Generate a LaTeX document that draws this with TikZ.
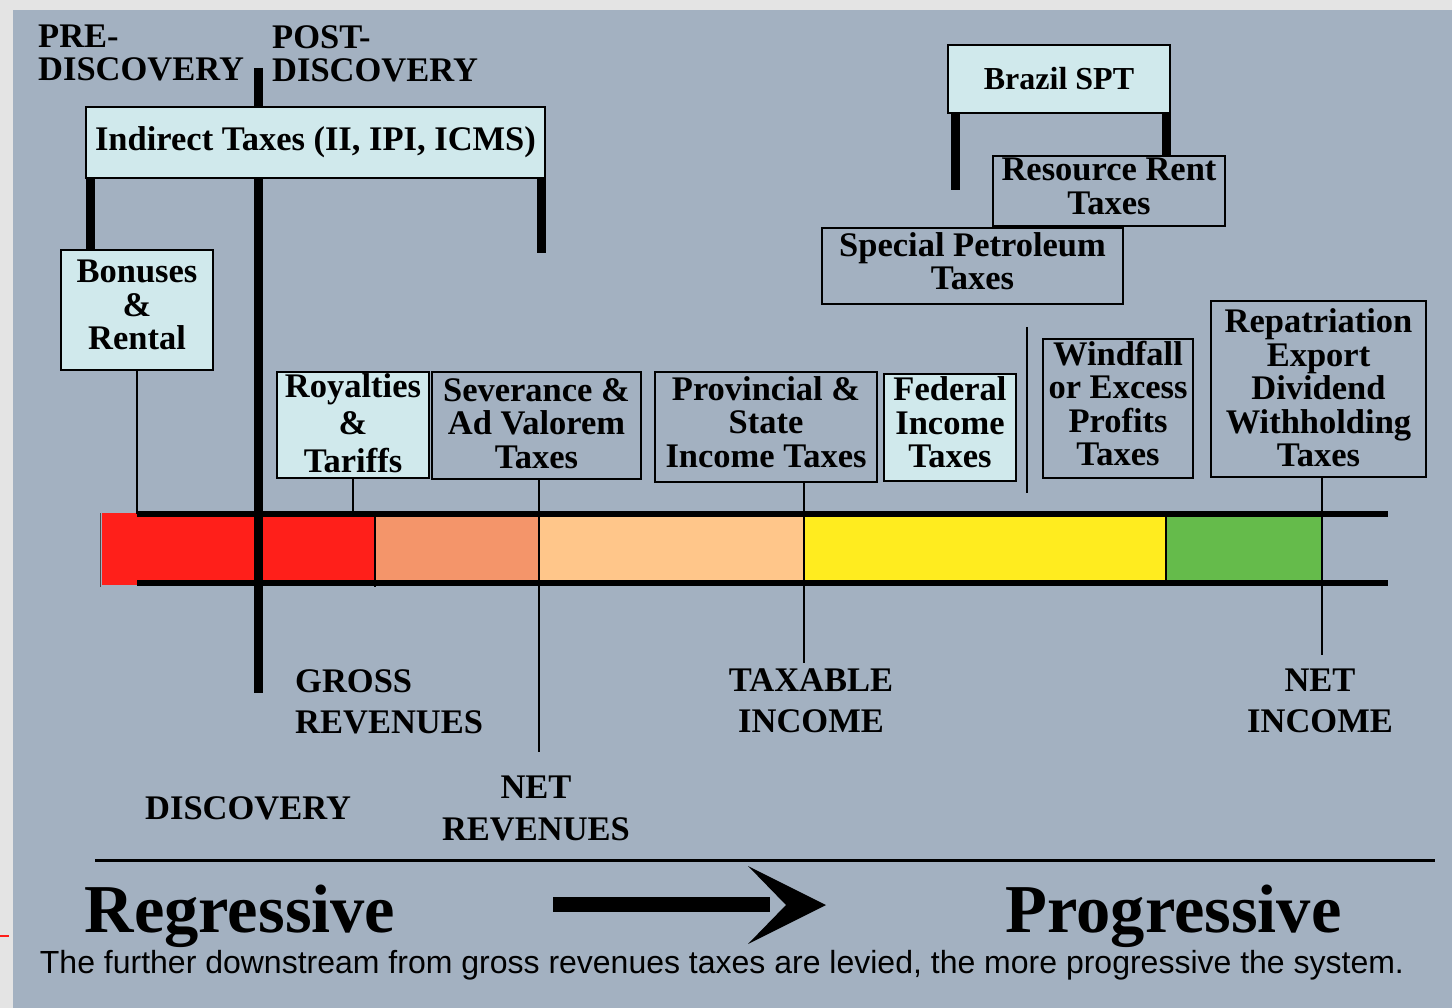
\documentclass[tikz,border=0pt]{standalone}
\usepackage{fontspec}
\setmainfont{Liberation Serif}
\newfontfamily\sentfont{Liberation Sans}
\definecolor{slate}{RGB}{163,177,193}
\definecolor{frame}{RGB}{228,228,228}
\definecolor{boxcyan}{RGB}{208,233,236}
\definecolor{barred}{RGB}{255,31,26}
\definecolor{barsalmon}{RGB}{244,149,106}
\definecolor{barpeach}{RGB}{255,198,138}
\definecolor{baryellow}{RGB}{255,236,31}
\definecolor{bargreen}{RGB}{101,187,75}
\newcommand\taxfont{\fontsize{34.5}{33.5}\selectfont\bfseries}
\newcommand\phasefont{\fontsize{34.5}{33}\selectfont\bfseries}
\newcommand\stagefont{\fontsize{34.5}{41}\selectfont\bfseries}
\newcommand\trendfont{\fontsize{68.5}{70}\selectfont\bfseries}
\begin{document}
\begin{tikzpicture}[x=1pt,y=-1pt,
    taxbox/.style={draw, line width=2.5pt, inner sep=0pt, align=center, font=\taxfont},
    litebox/.style={taxbox, fill=boxcyan},
    lifted/.style={text depth=10pt},
    bigpost/.style={line width=9pt},
    thinpost/.style={line width=2.5pt},
    stage/.style={inner sep=0pt, font=\stagefont, align=center}]
    \useasboundingbox (0,0) rectangle (1452,1008);
    \fill[frame] (0,0) rectangle (1452,1008); %cadre gris
    \fill[slate] (13,10) rectangle (1452,1008); %fond
    \draw[barred, line width=1.5pt] (0,936) -- (9,936);
    % barre des couleurs
    \fill[barred] (102,513) rectangle (137,585);
    \fill[barred] (137,517) rectangle (375,580);
    \fill[barsalmon] (375,517) rectangle (540,580);
    \fill[barpeach] (540,517) rectangle (803,580);
    \fill[baryellow] (803,517) rectangle (1166,580);
    \fill[bargreen] (1166,517) rectangle (1323,580);
    \draw[black!70, line width=1pt] (100,513) -- (100,587);
    \draw[line width=1.5pt] (375,517) -- (375,587);
    \draw[line width=1.5pt] (1166,517) -- (1166,580);
    \draw[line width=6pt] (137,514) -- (1388,514); %haut
    \draw[line width=6pt] (137,583) -- (1388,583); %bas
    % boites
    \node[litebox, minimum width=459pt, minimum height=71pt] (indirect) at (315.5,142.5) {Indirect Taxes (II, IPI, ICMS)};
    \node[litebox, lifted, minimum width=152pt, minimum height=120pt] (bonus) at (137,310) {Bonuses\\\&\\Rental};
    \node[litebox, font=\fontsize{34.5}{37.5}\selectfont\bfseries, text depth=4pt, minimum width=152pt, minimum height=106pt] (royal) at (353,425) {Royalties\\\&\\Tariffs};
    \node[taxbox, text depth=4pt, minimum width=209pt, minimum height=107pt] (sever) at (536.5,425.5) {Severance \&\\Ad Valorem\\Taxes};
    \node[taxbox, lifted, minimum width=222pt, minimum height=110pt] (prov) at (766,427) {Provincial \&\\State\\Income Taxes};
    \node[litebox, lifted, minimum width=132pt, minimum height=107pt] (fed) at (950,427.5) {Federal\\Income\\Taxes};
    \node[taxbox, lifted, minimum width=150pt, minimum height=139pt] (wind) at (1118,408.5) {Windfall\\or Excess\\Profits\\Taxes};
    \node[taxbox, text depth=2pt, minimum width=215pt, minimum height=176pt] (repat) at (1318.5,389) {Repatriation\\Export\\Dividend\\Withholding\\Taxes};
    \node[litebox, font=\fontsize{32}{33}\selectfont\bfseries, minimum width=222pt, minimum height=68pt] (brazil) at (1059,79) {Brazil SPT};
    \node[taxbox, lifted, minimum width=232pt, minimum height=70pt] (rrent) at (1109,191) {Resource Rent\\Taxes};
    \node[taxbox, lifted, minimum width=301pt, minimum height=76pt] (spt) at (972.5,266) {Special Petroleum\\Taxes};
    % poteaux epais
    \draw[bigpost] (258,68) -- (258,68 |- indirect.north);
    \draw[bigpost] (258,68 |- indirect.south) -- (258,693);
    \draw[bigpost] (90,0 |- indirect.south) -- (90,0 |- bonus.north);
    \draw[bigpost] (541,0 |- indirect.south) -- (541,253);
    \draw[bigpost] (955,0 |- brazil.south) -- (955,190);
    \draw[bigpost] (1166,0 |- brazil.south) -- (1166,0 |- rrent.north);
    % traits fins
    \draw[thinpost] (bonus.south) -- (137,514);
    \draw[thinpost] (royal.south) -- (353,514);
    \draw[thinpost] (539,0 |- sever.south) -- (539,752);
    \draw[thinpost] (804,0 |- prov.south) -- (804,663);
    \draw[thinpost] (1322,0 |- repat.south) -- (1322,655);
    \draw[thinpost] (1027,327) -- (1027,493);
    % etiquettes
    \node[inner sep=0pt, font=\phasefont, align=left, anchor=north west] (pre) at (38,25) {PRE-\\DISCOVERY};
    \node[inner sep=0pt, font=\phasefont, align=left, anchor=north west] (post) at (272,25) {POST-\\DISCOVERY};
    \node[stage, align=left, anchor=north west] (gross) at (295,669) {GROSS\\REVENUES};
    \node[stage, font=\fontsize{34.5}{42}\selectfont\bfseries, anchor=north] (netrev) at (536,776) {NET\\REVENUES};
    \node[stage, anchor=north] (taxable) at (811,669) {TAXABLE\\INCOME};
    \node[stage, anchor=north] (netinc) at (1320,669) {NET\\INCOME};
    \node[stage, anchor=base west] (disc) at (145,819) {DISCOVERY};
    % bas de page
    \draw[line width=3pt] (95,860) -- (1435,860);
    \node[inner sep=0pt, font=\trendfont, anchor=base] (regr) at (240,932) {Regressive};
    \node[inner sep=0pt, font=\trendfont, anchor=base] (progr) at (1173.5,932) {Progressive};
    \fill (553,897) rectangle (770,912);
    \fill (748,866) -- (826,905) -- (748,944) -- (786,905) -- cycle; %fleche
    \node[inner sep=0pt, font=\sentfont\fontsize{32}{34}\selectfont] (moral) at (722,965) {The further downstream from gross revenues taxes are levied, the more progressive the system.};
\end{tikzpicture}
\end{document}
